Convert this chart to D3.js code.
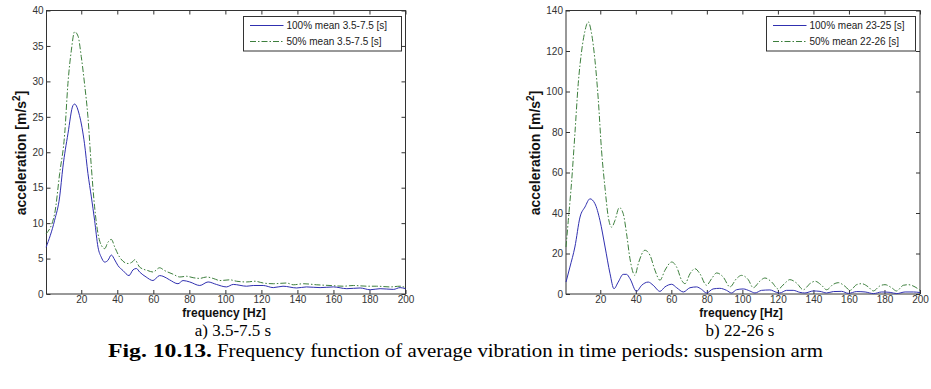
<!DOCTYPE html>
<html>
<head>
<meta charset="utf-8">
<script src="https://cdn.jsdelivr.net/npm/d3@7"></script>
<style>
  body { margin: 0; background: #fff; }
  svg { display: block; }
</style>
</head>
<body>
<svg id="chart" width="931" height="389"></svg>
<script>
/*** data ***/
var xTicks = [20, 40, 60, 80, 100, 120, 140, 160, 180, 200];
var yTicksA = [0, 5, 10, 15, 20, 25, 30, 35, 40];
var yTicksB = [0, 20, 40, 60, 80, 100, 120, 140];

// a) 3.5-7.5 s
var freqA100 = [0.5, 5.2, 8, 9.8, 12.6, 15.4, 16.3, 19, 21.8, 23.7, 25.6, 27.4, 29.3, 31.1, 33, 34.8, 36.7, 38.6, 40.4, 43.2, 46.5, 48.7, 50.6, 52.4, 56, 59.8, 63.5, 65.4, 69, 73.7, 76.5, 80.2, 85.8, 90.4, 95, 100.6, 104.4, 111.8, 115.5, 121, 126.6, 132, 139.6, 145, 152.6, 160, 167.4, 174.8, 180.4, 185.9, 193.3, 197, 200];
var accA100  = [6.6, 10.4, 13.7, 17.9, 22.6, 26.6, 26.8, 25.2, 21.2, 17, 13.7, 10.4, 6.6, 5.2, 4.5, 4.75, 5.5, 4.8, 4, 3.3, 2.6, 3.4, 3.6, 3.1, 2.4, 1.9, 2.6, 2.5, 2, 1.45, 1.9, 1.7, 1.2, 1.7, 1.35, 1, 1.35, 1.1, 1.2, 1.2, 0.9, 1.1, 0.85, 1, 0.9, 1, 0.75, 0.85, 0.6, 0.75, 0.65, 0.9, 0.75];
var freqA50 = [0.5, 5.2, 8, 10.8, 12.6, 14.5, 16.3, 18.2, 20, 21.8, 23.7, 25.6, 27.4, 29.3, 31.1, 33, 34.8, 36.7, 38.6, 41.3, 46, 48.7, 49.7, 52.4, 57, 59.8, 63.5, 66.3, 70.9, 74.7, 78.4, 82.1, 85.8, 89.5, 93.2, 97, 102.5, 106.2, 111.8, 116.4, 121, 126.6, 134, 137.7, 143.3, 150.7, 158.1, 165.5, 171.1, 178.5, 184, 191.4, 197, 200];
var accA50  = [8.5, 11.3, 17, 22.6, 29.7, 34.4, 37, 36.4, 33.5, 29.7, 25, 17.9, 12.3, 8.5, 6.9, 6.4, 7.3, 7.7, 6.6, 5.2, 4.3, 4.6, 4.85, 3.8, 3.3, 3.1, 3.7, 3.3, 2.8, 2.4, 2.5, 2.3, 2.2, 2.4, 2.2, 1.9, 2, 1.8, 1.7, 1.8, 1.55, 1.45, 1.55, 1.3, 1.45, 1.3, 1.2, 1.1, 1.2, 1.1, 1.1, 1, 1.1, 0.9];

// b) 22-26 s
var freqB100 = [0.7, 2.9, 5.7, 8.6, 11.4, 14.2, 17, 19.8, 22.7, 25.5, 27.7, 30.1, 32.9, 34.8, 36.7, 40.4, 43.3, 47, 49.8, 53.6, 56.4, 60.2, 63, 66.8, 70.5, 74.2, 77, 79.8, 83.5, 87.3, 91.1, 93.9, 96.7, 100.5, 104.2, 107.1, 110.8, 115.5, 119.3, 121.1, 124.9, 128.6, 132.4, 135.2, 139.9, 143.7, 147.4, 151.2, 155.9, 159.7, 164.4, 169.1, 173.8, 178.5, 183.2, 186.9, 191.6, 196.3, 200];
var accB100  = [5.9, 13.3, 23.2, 38, 43, 47, 44.6, 36.4, 23.2, 10, 2.6, 5.9, 9.7, 9.7, 7.6, 1.3, 4.3, 5.9, 4.3, 1.3, 3.5, 4.8, 3.1, 1, 3.1, 3.5, 2.3, 0.5, 2.5, 2.8, 1.8, 0.5, 2.1, 2.5, 1.5, 0.5, 1.8, 2, 0.8, 0.5, 1.8, 1.8, 0.8, 0.5, 1.5, 1.3, 0.5, 1.2, 1.3, 0.3, 1.2, 1, 0.2, 1, 0.8, 0.2, 1, 1, 0.7];
var freqB50 = [0.7, 2, 3.9, 5.7, 7.6, 9.5, 11.4, 13.2, 15.1, 17, 18.9, 20.7, 22.6, 24.5, 26.4, 28.3, 30.7, 32.9, 34.8, 36.7, 39.5, 41.4, 45.1, 48, 50.8, 53.6, 56.4, 60.2, 63, 65.8, 67.7, 70.5, 73.3, 76.1, 79.8, 82.7, 85.5, 89.2, 93, 96.7, 99.5, 103.3, 106.1, 109.9, 112.7, 116.5, 120.2, 124, 126.7, 130.5, 134.3, 138, 140.9, 144.6, 147.4, 151.2, 154, 157.8, 160.6, 164.3, 167.1, 170.9, 173.7, 177.4, 180.3, 184, 186.8, 190.6, 193.4, 197.2, 200];
var accB50  = [23.2, 36.4, 56, 79, 104, 120, 130, 134.4, 128.6, 115.5, 95.7, 71, 52.9, 38, 33, 36.4, 42.7, 39.7, 29.8, 17.5, 9.2, 15, 21.6, 19.1, 11.7, 6.8, 11.7, 15.8, 13.3, 6.8, 5.1, 10, 12.5, 10, 4.3, 7.6, 10.4, 8.4, 3.5, 7.6, 9.2, 7.1, 3.1, 6.4, 7.9, 5.9, 2.5, 5.4, 7.1, 5.4, 2.1, 5.1, 6.3, 4.3, 2.1, 4.8, 5.6, 3.8, 1.8, 4.6, 5.1, 3.5, 1.5, 4, 4.6, 3.1, 1.5, 4.3, 4.6, 3.5, 1.8];

var legendA = ["100% mean 3.5-7.5 [s]", "50% mean 3.5-7.5 [s]"];
var legendB = ["100% mean 23-25 [s]", "50% mean 22-26 [s]"];

var blue = "#3030b0";
var green = "#3d7f3d";
var svg = d3.select("#chart");

function toPoints(fs, vs) {
  return fs.map(function(f, i) { return [f, vs[i]]; });
}

function drawPanel(opt) {
  var x = d3.scaleLinear().domain([0.7, 200]).range([opt.left, opt.right]);
  var y = d3.scaleLinear().domain([0, opt.yMax]).range([294, 10.5]);
  var g = svg.append("g");

  // ticks inward on all four sides
  g.append("g").attr("transform", "translate(0,294)")
    .call(d3.axisBottom(x).tickValues(xTicks).tickSizeInner(-4).tickSizeOuter(0).tickPadding(2));
  g.append("g").attr("transform", "translate(0,10.5)")
    .call(d3.axisTop(x).tickValues(xTicks).tickSizeInner(-4).tickSizeOuter(0).tickFormat(""));
  g.append("g").attr("transform", "translate(" + opt.left + ",0)")
    .call(d3.axisLeft(y).tickValues(opt.yTicks).tickSizeInner(-4).tickSizeOuter(0).tickPadding(3));
  g.append("g").attr("transform", "translate(" + opt.right + ",0)")
    .call(d3.axisRight(y).tickValues(opt.yTicks).tickSizeInner(-4).tickSizeOuter(0).tickFormat(""));
  g.selectAll(".domain").remove();
  g.selectAll(".tick line").attr("stroke", "#333");
  g.selectAll(".tick text").attr("fill", "#333").style("font-family", "Liberation Sans, Arial").style("font-size", "10px");

  g.append("rect")
    .attr("x", opt.left).attr("y", 10.5)
    .attr("width", opt.right - opt.left).attr("height", 294 - 10.5)
    .attr("fill", "none").attr("stroke", "#333").attr("stroke-width", 1);

  var line = d3.line().x(function(d) { return x(d[0]); }).y(function(d) { return y(d[1]); })
    .curve(d3.curveMonotoneX);

  g.append("path").datum(toPoints(opt.f50, opt.v50))
    .attr("d", line).attr("fill", "none").attr("stroke", green)
    .attr("stroke-width", 1).attr("stroke-dasharray", "6,2,1.5,2");
  g.append("path").datum(toPoints(opt.f100, opt.v100))
    .attr("d", line).attr("fill", "none").attr("stroke", blue).attr("stroke-width", 1);

  // legend
  var lg = g.append("g");
  lg.append("rect").attr("x", opt.legX).attr("y", 16.5).attr("width", opt.legW).attr("height", 34.5)
    .attr("fill", "#fff").attr("stroke", "#333").attr("stroke-width", 1);
  [blue, green].forEach(function(c, i) {
    var yy = 25.5 + i * 16;
    lg.append("line").attr("x1", opt.legX + 6.5).attr("x2", opt.legX + 40).attr("y1", yy).attr("y2", yy)
      .attr("stroke", c).attr("stroke-width", 1)
      .attr("stroke-dasharray", i ? "6,2,1.5,2" : null);
    lg.append("text").attr("x", opt.legX + 43).attr("y", yy + 3.5)
      .style("font-family", "Liberation Sans, Arial").style("font-size", "10px").attr("fill", "#222")
      .text(opt.legend[i]);
  });

  // axis titles
  var cx = (opt.left + opt.right) / 2;
  g.append("text").attr("x", cx - 2).attr("y", 317).attr("text-anchor", "middle")
    .style("font-family", "Liberation Sans, Arial").style("font-size", "12px").style("font-weight", "bold")
    .attr("fill", "#111").text("frequency [Hz]");
  var yl = g.append("text").attr("transform", "translate(" + opt.yLabX + ",153) rotate(-90)")
    .attr("text-anchor", "middle")
    .style("font-family", "Liberation Sans, Arial").style("font-size", "14px").style("font-weight", "bold")
    .attr("fill", "#111");
  yl.append("tspan").text("acceleration [m/s");
  yl.append("tspan").attr("dy", -6).style("font-size", "10px").text("2");
  yl.append("tspan").attr("dy", 6).text("]");

  svg.append("text").attr("x", opt.capX).attr("y", 336).attr("text-anchor", "middle")
    .style("font-family", "Liberation Serif, Times New Roman").style("font-size", "17px")
    .attr("fill", "#000").text(opt.caption);
}

drawPanel({ left: 46.5, right: 405.5, yMax: 40, yTicks: yTicksA, f100: freqA100, v100: accA100,
  f50: freqA50, v50: accA50, legend: legendA, legX: 243.5, legW: 158, yLabX: 25.5, capX: 233, caption: "a) 3.5-7.5 s" });
drawPanel({ left: 566, right: 920, yMax: 140, yTicks: yTicksB, f100: freqB100, v100: accB100,
  f50: freqB50, v50: accB50, legend: legendB, legX: 766.5, legW: 149, yLabX: 539.5, capX: 740, caption: "b) 22-26 s" });

svg.append("text").attr("x", 108).attr("y", 357)
  .attr("textLength", 104).attr("lengthAdjust", "spacingAndGlyphs")
  .style("font-family", "Liberation Serif, Times New Roman").style("font-size", "18px").style("font-weight", "bold")
  .text("Fig. 10.13.");
svg.append("text").attr("x", 217).attr("y", 357)
  .attr("textLength", 606).attr("lengthAdjust", "spacingAndGlyphs")
  .style("font-family", "Liberation Serif, Times New Roman").style("font-size", "18px")
  .text("Frequency function of average vibration in time periods: suspension arm");
</script>
</body>
</html>
